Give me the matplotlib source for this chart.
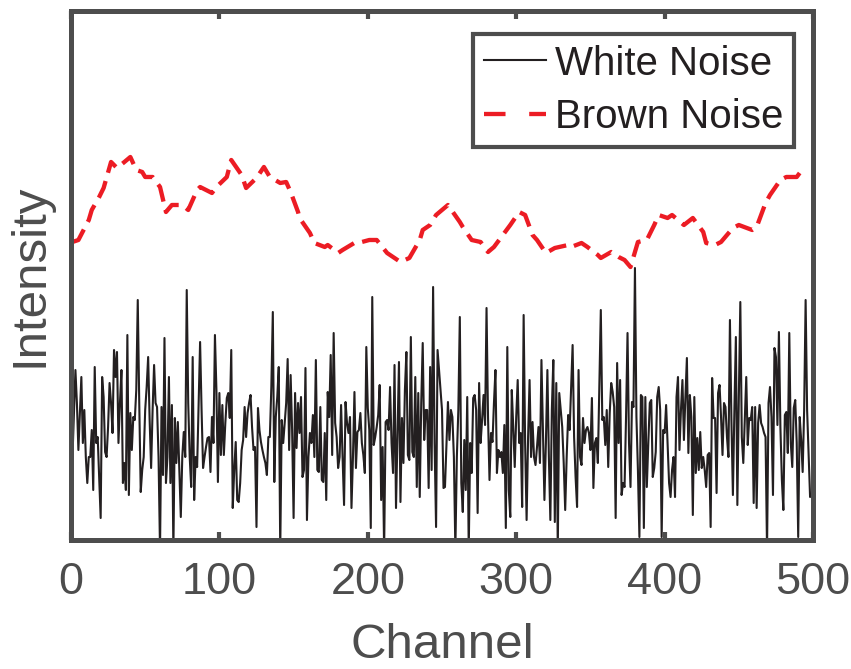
import numpy as np
import matplotlib
matplotlib.use('Agg')
import matplotlib.pyplot as plt
from matplotlib.lines import Line2D

plt.rcParams['font.family'] = ['Liberation Sans', 'DejaVu Sans']

# white noise, one value per channel (0..499)
white = [
    118, 83, 127, 170, 137, 90, 127, 163, 97, 130,
    83, 57, 83, 83, 110, 50, 173, 97, 103, 63,
    22, 163, 143, 88, 83, 113, 157, 137, 107, 190,
    163, 188, 97, 137, 170, 57, 77, 50, 205, 45,
    127, 90, 123, 120, 150, 240, 137, 48, 70, 83,
    130, 153, 183, 120, 72, 130, 175, 137, 133, 83,
    -10, 133, 65, 202, 57, 83, 163, 57, 135, -10,
    122, 77, 118, 70, 23, 83, 108, 83, 250, 137,
    83, 53, 183, 40, 83, 73, 137, 198, 130, 72,
    83, 93, 102, 103, 68, 123, 97, 205, 150, 58,
    147, 85, 135, 85, 117, 142, 147, 122, 190, 32,
    70, 98, 40, 38, 57, 90, 100, 133, 103, 127,
    137, 145, 113, 90, 93, 13, 132, 110, 98, 90,
    83, 77, 65, 103, 103, 153, 228, 58, 123, 143,
    173, -10, 120, 97, 117, 137, 181, 90, 165, 110,
    22, 147, 92, 137, 107, 143, 63, 70, 172, 20,
    83, 107, 97, 125, 83, 180, 70, 68, 133, 60,
    58, 107, 40, 148, 123, 185, 85, 207, 117, 103,
    72, 83, 135, 83, 35, 138, 117, 107, 123, 32,
    83, 148, 72, 108, 110, 127, 97, 85, 67, 193,
    132, 110, 12, 243, 95, 103, 113, 125, 155, 40,
    93, -10, 118, 120, 110, 153, 97, 67, 175, 32,
    103, 178, 38, 122, 77, 150, 188, 85, 80, 203,
    88, 83, 163, 53, 147, 43, 137, 197, 100, 130,
    130, 52, 173, 70, 253, 97, 13, 190, 170, 150,
    130, 52, 53, 97, 138, 100, 130, 123, 83, -10,
    83, 130, 223, 57, 28, 100, 50, 143, -10, 97,
    67, 142, 145, 130, 27, 157, 97, 120, 145, 115,
    232, 123, 60, 107, 98, 137, 170, 67, 90, 83,
    88, 67, 115, 12, 193, 50, 23, 150, 113, 73,
    123, 160, 97, 107, 33, 225, 97, 20, 103, 160,
    83, 118, 83, 75, 93, 113, 77, 180, 110, 40,
    97, 170, 83, 20, 130, 180, 18, 157, -10, 147,
    130, 113, 77, 30, 83, 125, 110, 153, 195, 103,
    63, 33, 170, 83, 75, 122, 97, 110, 113, 107,
    90, 142, 52, 97, 102, 77, 153, 230, 120, 123,
    95, 130, 73, 127, 157, 148, 133, 22, 177, 97,
    160, 45, 57, 53, 123, 207, 97, 53, 138, 133,
    272, 123, 70, 3, 145, 143, 12, 143, 53, 97,
    137, 140, 63, 72, 88, 143, 153, 130, 3, 110,
    107, 135, 97, 57, 43, 70, 83, 43, 143, 163,
    90, 130, 160, 100, 143, 182, 87, 145, 123, 25,
    143, 67, 102, 70, 108, 72, 83, 70, 53, 85,
    87, 13, 162, 122, 122, 47, 147, 155, 123, 85,
    137, 133, 103, 83, 220, 120, 45, 130, 203, 35,
    143, 238, 103, 77, 120, 163, 95, 122, 120, 133,
    37, 133, 32, 117, 135, 117, 113, 107, 103, -10,
    137, 153, 123, 45, 192, 183, 115, 208, 113, 60,
    30, 125, 128, 87, 207, 97, 73, 132, 140, 97,
    3, 123, 100, 68, 130, 240, 130, 88, 43, 45,
]
channels = np.arange(len(white))

# brown noise, read at the channels where it could be seen
brown_x = [1, 5, 12, 14, 19, 22, 27, 31, 36, 40, 44, 48, 50, 55, 60, 64, 68,
           75, 79, 85, 87, 95, 98, 105, 108, 115, 118, 125, 130, 134, 141,
           145, 148, 153, 154, 161, 164, 171, 173, 180, 183, 192, 196, 201,
           206, 213, 218, 222, 228, 235, 237, 242, 246, 254, 262, 264, 270,
           276, 281, 285, 292, 296, 302, 306, 311, 314, 320, 326, 335, 337,
           344, 348, 355, 357, 364, 369, 373, 377, 382, 388, 393, 396, 402,
           405, 413, 419, 426, 428, 434, 438, 446, 450, 459, 462, 468, 471,
           478, 482, 489, 491]
brown_y = [298, 300, 320, 330, 343, 352, 378, 372, 378, 383, 370, 368, 363,
           363, 353, 328, 335, 335, 330, 350, 353, 347, 353, 363, 380, 365,
           352, 362, 373, 363, 357, 358, 348, 328, 322, 307, 297, 293, 295,
           287, 290, 298, 298, 300, 300, 287, 282, 278, 282, 300, 310, 315,
           325, 335, 318, 313, 300, 298, 288, 293, 307, 315, 328, 325, 305,
           300, 287, 292, 295, 293, 297, 293, 285, 282, 288, 283, 280, 273,
           298, 300, 315, 325, 322, 325, 315, 322, 308, 297, 295, 298, 312,
           315, 310, 313, 337, 345, 360, 363, 363, 367]

xticks = [0, 100, 200, 300, 400, 500]

fig = plt.figure(figsize=(8.51, 6.69), dpi=100)
ax = fig.add_axes([0.0834, 0.1928, 0.872, 0.7908])

ax.plot(channels, white, color='#231f20', lw=1.5)
ax.plot(brown_x, brown_y, color='#ec1c24', lw=3.1, ls=(0, (4.2, 2.0)))

ax.set_xlim(0, 500)
ax.set_ylim(0, 529)
ax.set_xticks(xticks)
ax.set_yticks([])

gray = '#4d4d4d'
for s in ax.spines.values():
    s.set_linewidth(3.6)
    s.set_color(gray)
ax.tick_params(axis='x', direction='in', length=6, width=3, color=gray,
               labelsize=32.5, labelcolor=gray, pad=16, top=True)
ax.set_xlabel('Channel', fontsize=35.5, color=gray, labelpad=14)
ax.set_ylabel('Intensity', fontsize=35.5, color=gray, labelpad=13)

handles = [Line2D([], [], color='#231f20', lw=1.5),
           Line2D([], [], color='#ec1c24', lw=3.1, ls=(0, (5, 5.5)))]
leg = ax.legend(handles, ['White Noise', 'Brown Noise'], loc='upper right',
                bbox_to_anchor=(0.974, 0.957), fontsize=29, frameon=True,
                fancybox=False, framealpha=1, handlelength=1.55,
                handletextpad=0.2, borderpad=0.27, labelspacing=0.38,
                borderaxespad=0)
leg.get_frame().set_edgecolor(gray)
leg.get_frame().set_linewidth(3)
for t in leg.get_texts():
    t.set_color('#231f20')

fig.savefig('out.png', dpi=100)
